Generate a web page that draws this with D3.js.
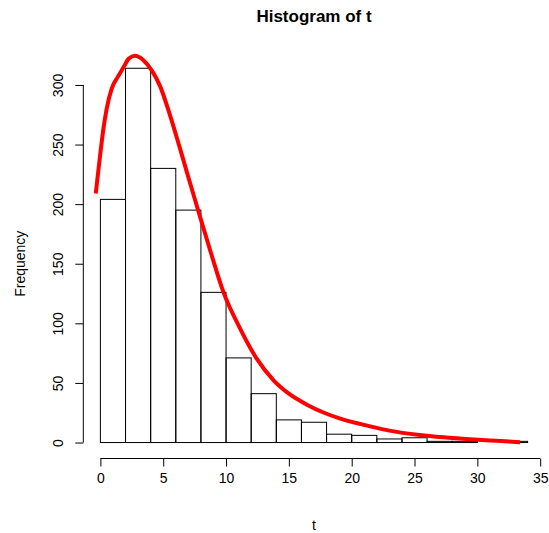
<!DOCTYPE html>
<html>
<head>
<meta charset="utf-8">
<script src="https://cdn.jsdelivr.net/npm/d3@7"></script>
<style>
  html, body { margin: 0; padding: 0; background: #fff; }
  svg { display: block; font-family: "Liberation Sans", Arial, Helvetica, sans-serif; }
</style>
</head>
<body>
<svg id="chart" width="549" height="533"></svg>
<script>
// ---- data ----
const binEdges = [0,2,4,6,8,10,12,14,16,18,20,22,24,26,28,30,32,34];
const counts   = [204,314,230,195,126,71,41,19,17,7,6,3,4,1,1,0,1];
const xTicks = [0,5,10,15,20,25,30,35];
const yTicks = [0,50,100,150,200,250,300];
const curveT = [-0.37,0.0,0.25,0.5,0.9,1.4,1.85,2.25,2.75,3.4,4.1,4.75,5.5,6.3,7.1,7.8,8.8,9.8,11.1,12.4,13.8,15.0,16.4,17.8,19.1,21.5,23.0,25.4,27.5,29.4,31.5,33.4];
const curveV = [209,243,264,280,297,307,315,322,324.5,321,312,299,276,248,219,194,159,126,96,71,52,41,32,25,20,13.5,10,6.3,4.2,2.7,1.4,0.3];
const titleText = "Histogram of t";
const xLabel = "t";
const yLabel = "Frequency";

// ---- layout ----
const svg = d3.select("#chart");
const x = d3.scaleLinear().domain([-1.36, 35.36]).range([83.3, 544.7]);
const y = d3.scaleLinear().domain([-12.56, 326.56]).range([457.5, 53.3]);

// bars
const bins = counts.map((c, i) => ({x0: binEdges[i], x1: binEdges[i+1], c}));
svg.append("g").selectAll("rect").data(bins).join("rect")
  .attr("x", d => x(d.x0))
  .attr("y", d => y(d.c))
  .attr("width", d => x(d.x1) - x(d.x0))
  .attr("height", d => y(0) - y(d.c))
  .attr("fill", "none")
  .attr("stroke", "#000")
  .attr("stroke-width", 1);

// density curve
const pts = curveT.map((t, i) => [t, curveV[i]]);
svg.append("path")
  .datum(pts)
  .attr("d", d3.line().x(d => x(d[0])).y(d => y(d[1])).curve(d3.curveMonotoneX))
  .attr("fill", "none")
  .attr("stroke", "#ff0000")
  .attr("stroke-width", 4)
  .attr("stroke-linecap", "butt");

// x axis
const xAxis = d3.axisBottom(x).tickValues(xTicks).tickSize(8).tickPadding(7).tickFormat(d3.format("d"));
const gx = svg.append("g").attr("transform", "translate(0,458.5)").call(xAxis);
gx.select(".domain").attr("d", `M${x(0)},0H${x(35)}`).attr("stroke", "#000");
gx.selectAll(".tick line").attr("stroke", "#000");
gx.selectAll(".tick text").attr("font-size", 14).attr("fill", "#000").attr("font-family", "Liberation Sans, Arial, sans-serif");

// y axis
const yAxis = d3.axisLeft(y).tickValues(yTicks).tickSize(8).tickFormat(d3.format("d"));
const gy = svg.append("g").attr("transform", "translate(83.3,0)").call(yAxis);
gy.select(".domain").attr("d", `M0,${y(0)}V${y(300)}`).attr("stroke", "#000");
gy.selectAll(".tick line").attr("stroke", "#000");
gy.selectAll(".tick text")
  .attr("font-size", 14).attr("fill", "#000")
  .attr("font-family", "Liberation Sans, Arial, sans-serif")
  .attr("x", null).attr("dy", null)
  .attr("text-anchor", "middle")
  .attr("transform", "translate(-20.5,0) rotate(-90)");

// titles
svg.append("text").attr("x", x(17)).attr("y", 22)
  .attr("text-anchor", "middle").attr("font-size", 17).attr("font-weight", "bold")
  .text(titleText);
svg.append("text").attr("x", x(17)).attr("y", 530)
  .attr("text-anchor", "middle").attr("font-size", 14)
  .text(xLabel);
svg.append("text").attr("transform", `translate(25,${y(150)}) rotate(-90)`)
  .attr("text-anchor", "middle").attr("font-size", 14)
  .text(yLabel);
</script>
</body>
</html>
